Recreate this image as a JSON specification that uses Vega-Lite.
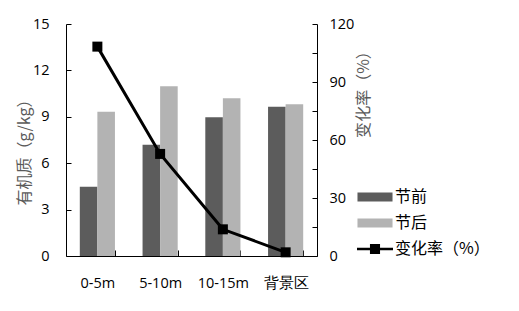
{
  "$schema": "https://vega.github.io/schema/vega-lite/v6.json",
  "width": 251,
  "height": 232,
  "autosize": "none",
  "padding": {"left": 66, "top": 24, "right": 202, "bottom": 55},
  "background": "white",
  "config": {
    "view": {"stroke": null},
    "font": "Open Sans",
    "axis": {"labelFont": "Open Sans", "labelFontSize": 14.5, "labelColor": "#000000", "domainColor": "#000000", "tickColor": "#000000", "grid": false, "titleFont": "Noto Sans CJK SC", "titleFontWeight": "normal"}
  },
  "datasets": {
    "bars": [
      {"cat": "0-5m", "series": "节前", "value": 4.48},
      {"cat": "0-5m", "series": "节后", "value": 9.33},
      {"cat": "5-10m", "series": "节前", "value": 7.2},
      {"cat": "5-10m", "series": "节后", "value": 10.97},
      {"cat": "10-15m", "series": "节前", "value": 8.97},
      {"cat": "10-15m", "series": "节后", "value": 10.2},
      {"cat": "背景区", "series": "节前", "value": 9.65},
      {"cat": "背景区", "series": "节后", "value": 9.81}
    ],
    "rate": [
      {"cat": "0-5m", "rate": 108.3},
      {"cat": "5-10m", "rate": 52.8},
      {"cat": "10-15m", "rate": 13.8},
      {"cat": "背景区", "rate": 1.9}
    ]
  },
  "encoding": {
    "x": {
      "field": "cat",
      "type": "nominal",
      "sort": ["0-5m", "5-10m", "10-15m", "背景区"],
      "scale": {"paddingInner": 0.44, "paddingOuter": 0.22},
      "axis": {"title": null, "labelAngle": 0, "tickBand": "extent", "tickSize": -6, "labelPadding": 26, "labelFont": "Open Sans", "domainWidth": 1}
    }
  },
  "layer": [
    {
      "data": {"name": "bars"},
      "mark": {"type": "bar"},
      "encoding": {
        "xOffset": {"field": "series", "type": "nominal", "sort": ["节前", "节后"], "scale": {"paddingInner": 0, "paddingOuter": 0}},
        "y": {
          "field": "value",
          "type": "quantitative",
          "scale": {"domain": [0, 15], "nice": false},
          "axis": {"values": [0, 3, 6, 9, 12, 15], "tickSize": -5, "labelPadding": 22, "title": "有机质（g/kg）", "titleFontSize": 16, "titleColor": "#5a5a5a", "titleAngle": -90, "titleAlign": "center", "titleBaseline": "middle", "titleX": -42, "titleY": 124, "domainWidth": 1}
        },
        "color": {
          "field": "series",
          "type": "nominal",
          "scale": {"domain": ["节前", "节后", "变化率（%）"], "range": ["#5c5c5c", "#b3b3b3", "#000000"]},
          "legend": {
            "title": null,
            "orient": "none",
            "legendX": 297,
            "legendY": 161,
            "padding": 0,
            "symbolSize": 576,
            "rowPadding": 6,
            "labelOffset": 8,
            "labelFont": "Noto Sans CJK SC",
            "labelFontSize": 16,
            "labelColor": "#000000",
            "symbolStrokeWidth": 0,
            "encode": {
              "symbols": {
                "update": {
                  "shape": {"signal": "datum.value === '变化率（%）' ? 'M-1.5,-0.11H-0.42V-0.42H0.42V-0.11H1.5V0.11H0.42V0.42H-0.42V0.11H-1.5Z' : 'M-1.46,-0.38H1.46V0.38H-1.46Z'"},
                  "fill": {"signal": "scale('color', datum.value)"},
                  "fillOpacity": {"value": 1},
                  "strokeWidth": {"value": 0}
                }
              }
            }
          }
        }
      }
    },
    {
      "data": {"name": "rate"},
      "layer": [
        {"mark": {"type": "line", "color": "#000000", "strokeWidth": 3}, "encoding": {}},
        {"mark": {"type": "point", "shape": "square", "filled": true, "color": "#000000", "size": 100, "opacity": 1}, "encoding": {}}
      ],
      "encoding": {
        "y": {
          "field": "rate",
          "type": "quantitative",
          "scale": {"domain": [0, 120], "nice": false},
          "axis": {"orient": "right", "values": [0, 15, 30, 45, 60, 75, 90, 105, 120], "labelExpr": "datum.value % 30 === 0 ? datum.label : ''", "tickSize": -5, "labelPadding": 17, "title": "变化率（%）", "titleFontSize": 16, "titleColor": "#5a5a5a", "titleAngle": -90, "titleAlign": "center", "titleBaseline": "middle", "titleX": 46, "titleY": 66, "domainWidth": 1}
        }
      }
    }
  ],
  "resolve": {"scale": {"y": "independent"}}
}
